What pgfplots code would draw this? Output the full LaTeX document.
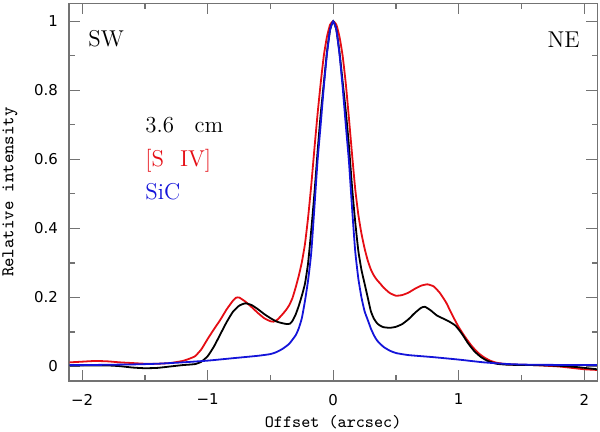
\documentclass[border=0pt]{standalone}
\usepackage{fontspec}
\usepackage{pgfplots}
\pgfplotsset{compat=1.18}
\newfontfamily\tickfont{DejaVu Sans}
\definecolor{cred}{rgb}{0.9,0.05,0.08}
\definecolor{cblue}{rgb}{0.08,0.08,0.85}
\definecolor{frame}{rgb}{0.45,0.45,0.45}
\begin{document}
\begin{tikzpicture}
\begin{axis}[
  scale only axis,
  width=264.15bp, height=188.85bp,
  xmin=-2.105, xmax=2.104,
  ymin=-0.042, ymax=1.052,
  xtick={-2,-1,0,1,2},
  xticklabels={−2,−1,0,1,2},
  ytick={0,0.2,0.4,0.6,0.8,1},
  yticklabels={0,0.2,0.4,0.6,0.8,1},
  minor x tick num=1,
  minor y tick num=1,
  tick align=inside,
  major tick length=5.5bp,
  minor tick length=2.8bp,
  axis line style={frame, line width=0.6bp},
  every tick/.style={frame, line width=0.6bp},
  tick label style={font=\tickfont\fontsize{7.5}{8}\selectfont},
  xticklabel style={yshift=-3bp},
  yticklabel style={xshift=-2bp},
  xlabel={Offset (arcsec)},
  ylabel={Relative intensity},
  x label style={at={(axis description cs:0.5,-0.108)}, anchor=center, font=\ttfamily\fontsize{8.7}{10}\selectfont},
  y label style={at={(axis description cs:-0.1117,0.5)}, anchor=center, rotate=0, font=\ttfamily\fontsize{9}{10}\selectfont},
  clip=true,
]
\addplot[cred, line width=0.9bp, smooth, tension=0.3] coordinates {
(-2.1,0.012) (-2.0,0.014) (-1.9,0.016) (-1.8,0.015) (-1.7,0.012) (-1.6,0.01) (-1.5,0.008) (-1.4,0.008) (-1.3,0.01) (-1.2,0.016) (-1.15,0.022) (-1.1,0.03) (-1.05,0.05) (-1.0,0.08) (-0.95,0.108) (-0.9,0.135) (-0.85,0.165) (-0.8,0.19) (-0.775,0.199) (-0.75,0.2) (-0.7,0.188) (-0.65,0.172) (-0.6,0.155) (-0.55,0.14) (-0.5,0.131) (-0.475,0.13) (-0.45,0.134) (-0.425,0.143) (-0.4,0.153) (-0.375,0.164) (-0.35,0.178) (-0.325,0.198) (-0.3,0.228) (-0.275,0.262) (-0.25,0.302) (-0.225,0.355) (-0.2,0.432) (-0.175,0.525) (-0.15,0.63) (-0.125,0.73) (-0.1,0.82) (-0.075,0.9) (-0.05,0.955) (-0.025,0.99) (0,1.0) (0.025,0.99) (0.05,0.955) (0.075,0.9) (0.1,0.82) (0.125,0.72) (0.15,0.615) (0.175,0.515) (0.2,0.44) (0.225,0.385) (0.25,0.342) (0.275,0.307) (0.3,0.281) (0.325,0.263) (0.35,0.25) (0.375,0.24) (0.4,0.229) (0.45,0.213) (0.5,0.205) (0.55,0.207) (0.6,0.214) (0.65,0.225) (0.7,0.234) (0.75,0.238) (0.8,0.232) (0.85,0.213) (0.9,0.185) (0.95,0.148) (1.0,0.114) (1.05,0.086) (1.1,0.061) (1.15,0.041) (1.2,0.027) (1.25,0.017) (1.3,0.011) (1.4,0.006) (1.6,0.004) (1.8,0.0) (1.9,-0.004) (2.0,-0.008) (2.1,-0.01)
};
\addplot[black, line width=0.9bp, smooth, tension=0.3] coordinates {
(-2.1,0.003) (-2.0,0.003) (-1.8,0.003) (-1.7,0.001) (-1.6,-0.003) (-1.5,-0.005) (-1.4,-0.004) (-1.3,0.0) (-1.2,0.004) (-1.1,0.007) (-1.05,0.014) (-1.0,0.03) (-0.95,0.058) (-0.9,0.093) (-0.85,0.128) (-0.8,0.158) (-0.75,0.176) (-0.7,0.183) (-0.65,0.178) (-0.6,0.166) (-0.55,0.152) (-0.5,0.14) (-0.45,0.13) (-0.4,0.125) (-0.37,0.123) (-0.345,0.124) (-0.325,0.132) (-0.3,0.15) (-0.275,0.175) (-0.25,0.205) (-0.225,0.24) (-0.2,0.3) (-0.175,0.395) (-0.15,0.5) (-0.125,0.62) (-0.1,0.73) (-0.075,0.82) (-0.05,0.91) (-0.025,0.975) (0,1.0) (0.025,0.975) (0.05,0.91) (0.075,0.825) (0.1,0.74) (0.125,0.64) (0.15,0.52) (0.175,0.42) (0.2,0.335) (0.225,0.28) (0.25,0.24) (0.275,0.2) (0.3,0.16) (0.325,0.138) (0.35,0.125) (0.375,0.118) (0.4,0.114) (0.45,0.112) (0.5,0.115) (0.55,0.123) (0.6,0.137) (0.65,0.155) (0.7,0.17) (0.73,0.173) (0.775,0.163) (0.825,0.148) (0.875,0.139) (0.925,0.13) (0.975,0.118) (1.025,0.095) (1.075,0.067) (1.125,0.044) (1.175,0.028) (1.225,0.017) (1.3,0.008) (1.4,0.005) (1.6,0.004) (1.8,0.002) (1.95,-0.002) (2.1,-0.008)
};
\addplot[cblue, line width=0.9bp, smooth, tension=0.3] coordinates {
(-2.1,0.004) (-2.0,0.004) (-1.8,0.005) (-1.6,0.006) (-1.4,0.008) (-1.2,0.012) (-1.0,0.017) (-0.8,0.024) (-0.6,0.031) (-0.5,0.036) (-0.45,0.042) (-0.4,0.052) (-0.35,0.066) (-0.3,0.09) (-0.275,0.11) (-0.25,0.14) (-0.225,0.19) (-0.2,0.25) (-0.175,0.33) (-0.15,0.46) (-0.125,0.595) (-0.1,0.70) (-0.075,0.81) (-0.05,0.905) (-0.025,0.975) (0,1.0) (0.025,0.975) (0.05,0.905) (0.075,0.81) (0.1,0.70) (0.125,0.595) (0.15,0.46) (0.175,0.335) (0.2,0.255) (0.225,0.2) (0.25,0.16) (0.275,0.135) (0.3,0.11) (0.325,0.09) (0.35,0.075) (0.4,0.057) (0.45,0.046) (0.5,0.039) (0.6,0.033) (0.8,0.027) (1.0,0.02) (1.2,0.012) (1.4,0.007) (1.6,0.005) (2.1,0.004)
};
\node[anchor=base west, inner sep=0pt, font=\fontsize{11.5}{12}\selectfont] at (axis cs:-1.954,0.926) {SW};
\node[anchor=base east, inner sep=0pt, font=\fontsize{11.5}{12}\selectfont] at (axis cs:1.966,0.925) {NE};
\node[anchor=base west, inner sep=0pt, font=\fontsize{11.5}{12}\selectfont] at (axis cs:-1.5,0.678) {3.6\hspace{0.9em}cm};
\node[anchor=base west, inner sep=0pt, text=cred, font=\fontsize{11.5}{12}\selectfont] at (axis cs:-1.5,0.5786) {[S\hspace{0.7em}IV]};
\node[anchor=base west, inner sep=0pt, text=cblue, font=\fontsize{11.5}{12}\selectfont] at (axis cs:-1.5,0.484) {SiC};
\end{axis}
\pgfresetboundingbox
\path[use as bounding box] ([xshift=-34.5bp,yshift=-25.5bp]current axis.south west) rectangle ([xshift=1.35bp,yshift=1.65bp]current axis.north east);
\end{tikzpicture}
\end{document}
